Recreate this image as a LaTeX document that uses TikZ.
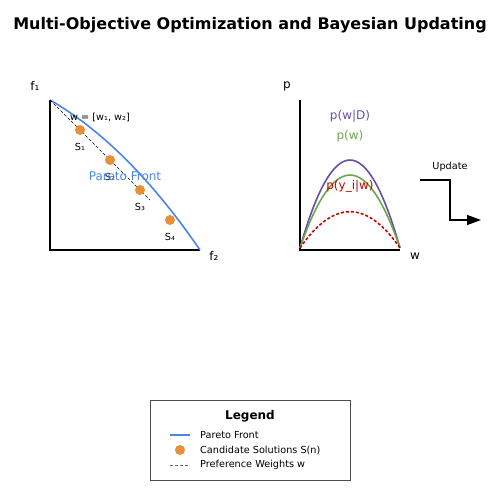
\documentclass[tikz,border=0pt]{standalone}
\usepackage{fontspec}
\setmainfont{DejaVu Sans}
\usetikzlibrary{arrows.meta}
\definecolor{pblue}{RGB}{74,134,232}
\definecolor{porange}{RGB}{230,145,56}
\definecolor{ppurple}{RGB}{103,78,167}
\definecolor{pgreen}{RGB}{106,168,79}
\definecolor{pred}{RGB}{204,0,0}
\tikzset{
  axis/.style={line width=1.8pt,black},
  curve/.style={line width=1.6pt},
  dot/.style={circle,fill=porange,inner sep=0pt,minimum size=10pt},
  small/.style={font=\fontsize{9.7}{11}\selectfont,inner sep=0pt},
  axlabel/.style={font=\fontsize{12}{14}\selectfont,inner sep=0pt},
}
\begin{document}
\begin{tikzpicture}[x=1pt,y=-1pt]
\useasboundingbox (0,0) rectangle (500,500);
\node[font=\fontsize{16}{18}\selectfont\bfseries] (title) at (250,25) {Multi-Objective Optimization and Bayesian Updating};
% left plot
\coordinate (o1) at (50,250);
\coordinate (ytop1) at (50,100);
\coordinate (xend1) at (200,250);
\draw[axis] (ytop1) -- (o1) -- (xend1);
\node[axlabel] (f1) at (35,86) {f₁};
\node[axlabel] (f2) at (214,256) {f₂};
\draw[pblue,curve] (ytop1) .. controls (102,130) and (152,180) .. (xend1);
\coordinate (wend) at (150,200);
\draw[black,densely dashed,line width=0.7pt] (ytop1) -- (wend);
\node[small] (wlab) at (100,117) {w = [w₁, w₂]};
\node[dot] (s1) at (80,130) {};
\node[dot] (s2) at (110,160) {};
\node[dot] (s3) at (140,190) {};
\node[dot] (s4) at (170,220) {};
\node[small] (s1l) at (80,147) {S₁};
\node[small] (s2l) at (110,177) {S₂};
\node[small] (s3l) at (140,207) {S₃};
\node[small] (s4l) at (170,237) {S₄};
\node[axlabel,text=pblue] (pf) at (125,176) {Pareto Front};
% right plot
\coordinate (o2) at (300,250);
\coordinate (ytop2) at (300,100);
\coordinate (xend2) at (400,250);
\draw[axis] (ytop2) -- (o2) -- (xend2);
\node[axlabel] (p) at (287,86) {p};
\node[axlabel] (w) at (415,256) {w};
\coordinate (a) at (300,248);
\coordinate (b) at (400,248);
\draw[ppurple,curve] (a) .. controls (333.3,130.7) and (366.7,130.7) .. (b);
\draw[pgreen,curve] (a) .. controls (333.3,150.7) and (366.7,150.7) .. (b);
\draw[pred,curve,dash pattern=on 3pt off 2pt] (a) .. controls (333.3,199.6) and (366.7,199.6) .. (b);
\node[axlabel,text=ppurple] (post) at (350,116) {p(w|D)};
\node[axlabel,text=pgreen] (prior) at (350,136) {p(w)};
\node[axlabel,text=pred] (lik) at (350,186) {p(y\_i|w)};
% update arrow
\node[small] (upd) at (450,167) {Update};
\coordinate (u0) at (420,180);
\coordinate (u1) at (450,180);
\coordinate (u2) at (450,220);
\coordinate (u3) at (481,220);
\draw[line width=1.2pt,-{Triangle[length=14pt,width=10pt]}] (u0) -- (u1) -- (u2) -- (u3);
% legend
\node[draw=black!70,line width=0.9pt,minimum width=200pt,minimum height=80pt,inner sep=0pt] (leg) at (250,440) {};
\node[font=\fontsize{12}{14}\selectfont\bfseries,inner sep=0pt] (legt) at (250,416) {Legend};
\coordinate (l1a) at (170,435); \coordinate (l1b) at (190,435);
\draw[pblue,curve] (l1a) -- (l1b);
\node[small,anchor=west] (lt1) at (200,435) {Pareto Front};
\node[dot] (ld) at (180,450) {};
\node[small,anchor=west] (lt2) at (200,450) {Candidate Solutions S(n)};
\coordinate (l3a) at (170,465); \coordinate (l3b) at (190,465);
\draw[black!60,line width=0.9pt,dash pattern=on 3pt off 2pt] (l3a) -- (l3b);
\node[small,anchor=west] (lt3) at (200,465) {Preference Weights w};
\end{tikzpicture}
\end{document}
